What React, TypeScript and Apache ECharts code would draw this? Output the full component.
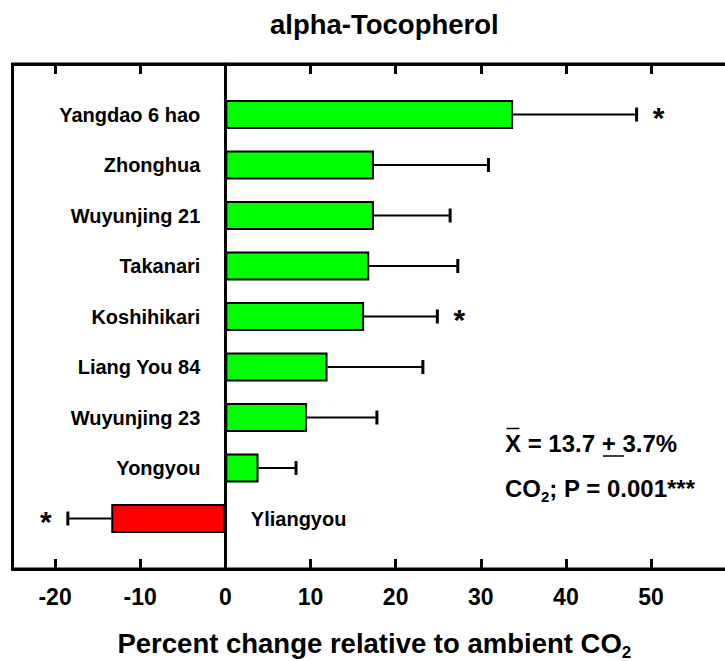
import React, { useEffect, useRef } from 'react';
import * as echarts from 'echarts';

const categories = ['Yangdao 6 hao', 'Zhonghua', 'Wuyunjing 21', 'Takanari', 'Koshihikari', 'Liang You 84', 'Wuyunjing 23', 'Yongyou', 'Yliangyou'];
const changes = [33.8, 17.45, 17.45, 16.9, 16.3, 12.0, 9.6, 3.9, -13.4];
const errors = [14.5, 13.45, 8.95, 10.4, 8.6, 11.2, 8.2, 4.4, 5.1];
const significance = ['*', '', '', '', '*', '', '', '', '*'];
const xTicks = [-20, -10, 0, 10, 20, 30, 40, 50];

const FONT = '"Liberation Sans", Arial, Helvetica, sans-serif';
const X_MIN = -25;
const X_MAX = 60;
const GRID_LEFT = 12.5;
const GRID_WIDTH = 723.7;

export default function App() {
  const ref = useRef<HTMLDivElement>(null);
  useEffect(() => {
    if (!ref.current) return;
    const chart = echarts.init(ref.current, null, { renderer: 'svg' });
    const yData = [' ', ...categories, '  '];
    const zeroOffset = ((0 - X_MIN) / (X_MAX - X_MIN)) * GRID_WIDTH;
    const option: any = {
      animation: false,
      backgroundColor: '#fff',
      title: {
        text: 'alpha-Tocopherol',
        left: 270,
        top: 10,
        padding: 0,
        textStyle: { fontFamily: FONT, fontSize: 27.5, fontWeight: 'bold', color: '#000' },
      },
      grid: {
        left: GRID_LEFT,
        top: 64,
        width: GRID_WIDTH,
        height: 505,
        containLabel: false,
        outerBoundsMode: 'none',
        show: true,
        borderColor: '#000',
        borderWidth: 3,
        backgroundColor: 'transparent',
      },
      xAxis: [
        {
          type: 'value',
          position: 'bottom',
          min: X_MIN,
          max: X_MAX,
          axisLine: { show: true, onZero: false, lineStyle: { color: '#000', width: 3 } },
          axisTick: { show: true, inside: true, length: 10, customValues: xTicks, lineStyle: { color: '#000', width: 3 } },
          axisLabel: { customValues: xTicks, margin: 16, fontFamily: FONT, fontSize: 23, fontWeight: 'bold', color: '#000' },
          splitLine: { show: false },
          name: '{a|Percent change relative to ambient CO}{s|2}',
          nameLocation: 'middle',
          nameGap: 56,
          nameTextStyle: {
            rich: {
              a: { fontFamily: FONT, fontSize: 27.5, fontWeight: 'bold', color: '#000', lineHeight: 36 },
              s: { fontFamily: FONT, fontSize: 17, fontWeight: 'bold', color: '#000', lineHeight: 16, verticalAlign: 'bottom' },
            },
          },
        },
        {
          type: 'value',
          position: 'top',
          min: X_MIN,
          max: X_MAX,
          axisLine: { show: true, onZero: false, lineStyle: { color: '#000', width: 3 } },
          axisTick: { show: true, inside: true, length: 10, customValues: xTicks, lineStyle: { color: '#000', width: 3 } },
          axisLabel: { show: false },
          splitLine: { show: false },
        },
      ],
      yAxis: {
        type: 'category',
        data: yData,
        inverse: true,
        boundaryGap: false,
        position: 'left',
        offset: -zeroOffset,
        axisLine: { show: true, onZero: false, lineStyle: { color: '#000', width: 3 } },
        axisTick: { show: false },
        splitLine: { show: false },
        axisLabel: {
          margin: 25,
          interval: 0,
          fontFamily: FONT,
          fontSize: 20,
          fontWeight: 'bold',
          color: '#000',
          formatter: (v: string) => {
            const i = categories.indexOf(v);
            return i >= 0 && changes[i] >= 0 ? v : '';
          },
        },
      },
      series: [
        {
          type: 'bar',
          xAxisIndex: 0,
          yAxisIndex: 0,
          barWidth: 29,
          encode: { x: 0, y: 1 },
          data: changes.map((v, i) => ({
            value: [v, i + 1],
            itemStyle: { color: v >= 0 ? '#00ff00' : '#ff0000', borderColor: '#000', borderWidth: 2 },
          })),
          z: 2,
        },
        {
          type: 'custom',
          xAxisIndex: 0,
          yAxisIndex: 0,
          encode: { x: [0, 1], y: 2 },
          data: changes.map((v, i) => [v, errors[i], i + 1]),
          z: 3,
          renderItem: (params: any, api: any) => {
            const v = api.value(0);
            const e = api.value(1);
            const idx = api.value(2);
            const dir = v >= 0 ? 1 : -1;
            const end = v + dir * e;
            const p0 = api.coord([v, idx]);
            const p1 = api.coord([end, idx]);
            const children: any[] = [
              { type: 'line', shape: { x1: p0[0], y1: p0[1], x2: p1[0], y2: p1[1] }, style: { stroke: '#000', lineWidth: 2 } },
              { type: 'line', shape: { x1: p1[0], y1: p1[1] - 7, x2: p1[0], y2: p1[1] + 7 }, style: { stroke: '#000', lineWidth: 3 } },
            ];
            const s = significance[idx - 1];
            if (s) {
              children.push({
                type: 'text',
                x: p1[0] + dir * 22,
                y: p1[1] + 3,
                style: { text: s, fontFamily: FONT, fontSize: 30, fontWeight: 'bold', fill: '#000', align: 'center', verticalAlign: 'middle' },
              });
            }
            return { type: 'group', children };
          },
        },
        {
          type: 'scatter',
          xAxisIndex: 0,
          yAxisIndex: 0,
          symbol: 'circle',
          symbolSize: 1,
          itemStyle: { color: 'rgba(0,0,0,0)', opacity: 1 },
          encode: { x: 0, y: 1 },
          data: categories
            .map((c, i) => ({ name: c, value: [0, i + 1], v: changes[i] }))
            .filter((d) => d.v < 0)
            .map((d) => ({ name: d.name, value: d.value })),
          label: {
            show: true,
            position: 'right',
            distance: 25,
            formatter: '{b}',
            fontFamily: FONT,
            fontSize: 20,
            fontWeight: 'bold',
            color: '#000',
            opacity: 1,
          },
          z: 4,
        },
      ],
      graphic: [
        {
          type: 'text',
          x: 505,
          y: 443.4,
          style: { text: 'X = 13.7 + 3.7%', fontFamily: FONT, fontSize: 24, fontWeight: 'bold', fill: '#000', verticalAlign: 'middle' },
        },
        { type: 'line', shape: { x1: 506.5, y1: 428.5, x2: 519.5, y2: 428.5 }, style: { stroke: '#000', lineWidth: 1.5 } },
        { type: 'line', shape: { x1: 603, y1: 456, x2: 624, y2: 456 }, style: { stroke: '#000', lineWidth: 1.5 } },
        {
          type: 'text',
          x: 505,
          y: 473.7,
          style: {
            text: '{a|CO}{s|2}{a|; P = 0.001***}',
            verticalAlign: 'top',
            rich: {
              a: { fontFamily: FONT, fontSize: 24, fontWeight: 'bold', fill: '#000', lineHeight: 30 },
              s: { fontFamily: FONT, fontSize: 15, fontWeight: 'bold', fill: '#000', lineHeight: 14, verticalAlign: 'bottom' },
            },
          },
        },
      ],
    };
    chart.setOption(option);
    return () => chart.dispose();
  }, []);
  return <div ref={ref} style={{ position: 'fixed', left: 0, top: 0, width: 725, height: 661 }} />;
}
